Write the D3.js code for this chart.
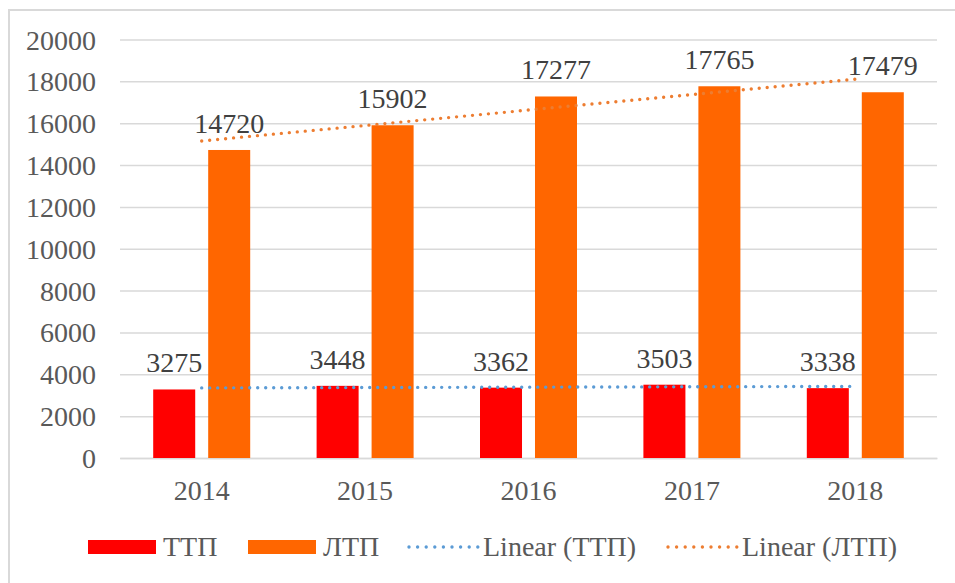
<!DOCTYPE html>
<html>
<head>
<meta charset="utf-8">
<script src="https://cdn.jsdelivr.net/npm/d3@7"></script>
<style>
  body { margin: 0; background: #fff; }
  svg { display: block; font-family: "Liberation Serif", "Times New Roman", serif; }
</style>
</head>
<body>
<svg width="955" height="583"></svg>
<script>
// years on the x axis
const years = ['2014', '2015', '2016', '2017', '2018'];
// series values
const ttp = [3275, 3448, 3362, 3503, 3338];
const ltp = [14720, 15902, 17277, 17765, 17479];
const seriesNames = ['ТТП', 'ЛТП'];
const yTicks = [0, 2000, 4000, 6000, 8000, 10000, 12000, 14000, 16000, 18000, 20000];

const barColors = { 'ТТП': '#FF0000', 'ЛТП': '#FF6600' };
const trendColors = { 'ТТП': '#5B9BD5', 'ЛТП': '#ED7D31' };

const svg = d3.select('svg');

// outer chart border (only left and top edges fall inside the picture)
svg.append('rect')
  .attr('x', 9).attr('y', 10)
  .attr('width', 960).attr('height', 600)
  .attr('fill', 'none')
  .attr('stroke', '#D9D9D9')
  .attr('stroke-width', 2);

// plot area
const plotLeft = 120, plotRight = 937, plotTop = 39.5, plotBottom = 458;

const xScale = d3.scaleBand()
  .domain(years)
  .range([plotLeft, plotRight])
  .padding(0);

// two bars inside each year: 42px wide, 13px apart
const inner = d3.scaleBand()
  .domain(seriesNames)
  .range([-48.5, 48.5])
  .paddingInner(0.236)
  .paddingOuter(0);

const yScale = d3.scaleLinear()
  .domain([0, 20000])
  .range([plotBottom, plotTop]);

// y axis with gridlines
const yAxis = svg.append('g')
  .attr('transform', `translate(${plotLeft}, 0)`)
  .call(d3.axisLeft(yScale).tickValues(yTicks).tickSize(-(plotRight - plotLeft)).tickPadding(24).tickFormat(d3.format('d')));
yAxis.select('.domain').remove();
yAxis.selectAll('.tick line').attr('stroke', '#D9D9D9').attr('stroke-width', 1.5);
yAxis.selectAll('.tick text')
  .attr('fill', '#595959')
  .attr('font-size', 28)
  .attr('font-family', null)
  .attr('dy', '0.34em');

// x axis
const xAxis = svg.append('g')
  .attr('transform', `translate(0, ${plotBottom})`)
  .call(d3.axisBottom(xScale).tickSize(0));
xAxis.select('.domain').attr('stroke', '#D9D9D9').attr('stroke-width', 1.5);
xAxis.selectAll('.tick text')
  .attr('fill', '#595959')
  .attr('font-size', 28)
  .attr('y', 42)
  .attr('dy', 0);
svg.selectAll('.tick, g').attr('font-family', null);

// bars
const rows = years.map((y, i) => ({ year: y, 'ТТП': ttp[i], 'ЛТП': ltp[i] }));

const groups = svg.append('g').selectAll('g')
  .data(rows)
  .enter().append('g')
  .attr('transform', d => `translate(${xScale(d.year) + xScale.bandwidth() / 2}, 0)`);

groups.selectAll('rect')
  .data(d => seriesNames.map(s => ({ key: s, value: d[s] })))
  .enter().append('rect')
  .attr('x', d => inner(d.key))
  .attr('y', d => yScale(d.value))
  .attr('width', inner.bandwidth())
  .attr('height', d => plotBottom - yScale(d.value))
  .attr('fill', d => barColors[d.key]);

// linear trendlines (least squares, like the spreadsheet)
const trend = (vals) => {
  const xs = vals.map((v, i) => i + 1);
  const mx = d3.mean(xs), my = d3.mean(vals);
  const slope = d3.sum(xs.map((x, i) => (x - mx) * (vals[i] - my))) / d3.sum(xs.map(x => (x - mx) ** 2));
  return xs.map(x => my + slope * (x - mx));
};

const line = d3.line()
  .x((d, i) => xScale(years[i]) + xScale.bandwidth() / 2)
  .y(d => yScale(d));

[['ТТП', ttp], ['ЛТП', ltp]].forEach(([name, vals]) => {
  svg.append('path')
    .attr('d', line(trend(vals)))
    .attr('fill', 'none')
    .attr('stroke', trendColors[name])
    .attr('stroke-width', 3.4)
    .attr('stroke-linecap', 'round')
    .attr('stroke-dasharray', '0 8');
});

// data labels
groups.selectAll('text')
  .data(d => seriesNames.map(s => ({ key: s, value: d[s] })))
  .enter().append('text')
  .attr('x', d => inner(d.key) + inner.bandwidth() / 2)
  .attr('y', d => yScale(d.value) - 17)
  .attr('text-anchor', 'middle')
  .attr('font-size', 28)
  .attr('fill', '#404040')
  .text(d => d.value);

// legend
const legend = svg.append('g');
const legendItems = [
  { label: 'ТТП', x: 88, type: 'bar', color: barColors['ТТП'] },
  { label: 'ЛТП', x: 248, type: 'bar', color: barColors['ЛТП'] },
  { label: 'Linear (ТТП)', x: 408, type: 'trend', color: trendColors['ТТП'] },
  { label: 'Linear (ЛТП)', x: 667, type: 'trend', color: trendColors['ЛТП'] }
];

legendItems.forEach(item => {
  if (item.type === 'bar') {
    legend.append('rect')
      .attr('x', item.x).attr('y', 540)
      .attr('width', 68).attr('height', 14)
      .attr('fill', item.color);
  } else {
    legend.append('line')
      .attr('x1', item.x + 1).attr('x2', item.x + 70)
      .attr('y1', 547).attr('y2', 547)
      .attr('stroke', item.color)
      .attr('stroke-width', 3.4)
      .attr('stroke-linecap', 'round')
      .attr('stroke-dasharray', '0 8.6');
  }
  legend.append('text')
    .attr('x', item.x + 75)
    .attr('y', 556)
    .attr('font-size', 28)
    .attr('fill', '#595959')
    .text(item.label);
});
</script>
</body>
</html>
